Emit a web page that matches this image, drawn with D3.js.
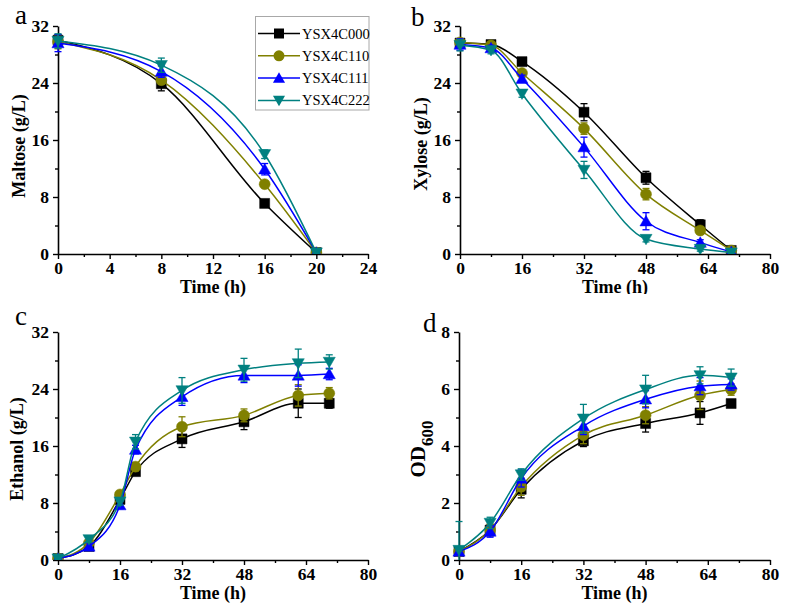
<!DOCTYPE html>
<html><head><meta charset="utf-8">
<script src="https://cdn.jsdelivr.net/npm/d3@7"></script>
<style>
body{margin:0;background:#fff;}
svg{display:block;}
text{font-family:"Liberation Serif","Times New Roman",serif;}
</style></head>
<body>
<svg id="chart" width="787" height="607"></svg>
<script>
// ---------------- DATA ----------------
const seriesNames = ["YSX4C000","YSX4C110","YSX4C111","YSX4C222"];
const seriesColors = ["#000000","#808000","#0000ff","#008080"];
const seriesShapes = ["square","circle","triangleUp","triangleDown"];

// Panel a: Maltose
const timeA = [0, 8, 16, 20];
const maltose000 = [30.0, 23.9, 7.1, 0.2];
const maltose110 = [29.8, 24.4, 9.8, 0.2];
const maltose111 = [29.6, 25.6, 11.9, 0.2];
const maltose222 = [29.9, 26.5, 14.0, 0.2];
const maltoseErr000 = [0.8, 1.0, 0.5, 0.1];
const maltoseErr110 = [1.0, 0.6, 0.5, 0.1];
const maltoseErr111 = [1.2, 0.8, 0.8, 0.1];
const maltoseErr222 = [1.0, 1.0, 0.6, 0.1];

// Panel b: Xylose
const timeB = [0, 8, 16, 32, 48, 62, 70];
const xylose000 = [29.6, 29.4, 27.0, 19.9, 10.7, 4.1, 0.5];
const xylose110 = [29.7, 29.3, 25.4, 17.6, 8.4, 3.3, 0.5];
const xylose111 = [29.4, 28.9, 24.6, 15.0, 4.6, 1.6, 0.3];
const xylose222 = [29.3, 28.6, 22.5, 11.8, 2.1, 0.7, 0.2];
const xyloseErr000 = [0.5, 0.3, 0.3, 1.2, 0.9, 0.7, 0.2];
const xyloseErr110 = [0.5, 0.3, 0.4, 0.8, 0.8, 0.5, 0.2];
const xyloseErr111 = [0.8, 0.4, 0.5, 1.4, 1.2, 0.4, 0.2];
const xyloseErr222 = [0.8, 0.5, 0.5, 1.2, 0.4, 0.3, 0.1];

// Panel c: Ethanol
const timeC = [0, 8, 16, 20, 32, 48, 62, 70];
const ethanol000 = [0.2, 1.9, 8.5, 12.4, 17.0, 19.4, 22.0, 22.0];
const ethanol110 = [0.2, 2.4, 9.2, 13.1, 18.7, 20.3, 23.1, 23.4];
const ethanol111 = [0.2, 1.9, 7.7, 15.5, 22.9, 25.9, 25.9, 26.1];
const ethanol222 = [0.2, 2.9, 8.2, 16.6, 23.8, 26.7, 27.6, 27.8];
const ethanolErr000 = [0.1, 0.4, 0.4, 0.5, 1.2, 1.1, 2.0, 0.7];
const ethanolErr110 = [0.1, 0.4, 0.4, 0.6, 1.4, 0.9, 1.5, 0.8];
const ethanolErr111 = [0.1, 0.5, 0.5, 0.6, 1.2, 1.0, 1.5, 0.8];
const ethanolErr222 = [0.1, 0.4, 0.5, 1.0, 1.8, 1.6, 2.0, 1.0];

// Panel d: OD600
const timeD = [0, 8, 16, 32, 48, 62, 70];
const od000 = [0.30, 1.05, 2.48, 4.18, 4.79, 5.16, 5.49];
const od110 = [0.30, 1.05, 2.57, 4.38, 5.08, 5.78, 5.98];
const od111 = [0.30, 1.00, 2.86, 4.70, 5.64, 6.10, 6.16];
const od222 = [0.35, 1.30, 3.00, 4.96, 5.98, 6.48, 6.40];
const odErr000 = [0.05, 0.2, 0.3, 0.2, 0.3, 0.4, 0.1];
const odErr110 = [0.05, 0.2, 0.3, 0.3, 0.3, 0.5, 0.2];
const odErr111 = [0.05, 0.2, 0.3, 0.3, 0.3, 0.3, 0.2];
const odErr222 = [1.00, 0.2, 0.2, 0.5, 0.5, 0.3, 0.3];

const xTicksA = [0,4,8,12,16,20,24];
const xTicksBCD = [0,16,32,48,64,80];
const yTicks32 = [0,8,16,24,32];
const yTicks8 = [0,2,4,6,8];

// ---------------- DRAW ----------------
const svg = d3.select("#chart");
const FONT = '"Liberation Serif","Times New Roman",serif';

function symbolPath(shape, s){
  const h = s/2;
  if(shape==="square") return `M${-h},${-h}H${h}V${h}H${-h}Z`;
  if(shape==="circle") return `M${-h},0A${h},${h} 0 1,0 ${h},0A${h},${h} 0 1,0 ${-h},0Z`;
  if(shape==="triangleUp") return `M0,${-h*1.05}L${h*1.1},${h*0.85}L${-h*1.1},${h*0.85}Z`;
  return `M0,${h*1.05}L${h*1.1},${-h*0.85}L${-h*1.1},${-h*0.85}Z`;
}

const panels = [
  {id:"a", letter:"a", lx:15, ly:24, x0:58, x1:368, y0:254, y1:26, xMax:24, yMax:32,
   xTicks:xTicksA, xMinor:d3.range(2,24,4), yTicks:yTicks32, yMinor:d3.range(4,32,8),
   t:timeA, ys:[maltose000,maltose110,maltose111,maltose222], es:[maltoseErr000,maltoseErr110,maltoseErr111,maltoseErr222],
   ytitle:"Maltose (g/L)", ytx:25, yty:146, xty:293, legend:true},
  {id:"b", letter:"b", lx:411, ly:26, x0:460, x1:770, y0:254, y1:26, xMax:80, yMax:32,
   xTicks:xTicksBCD, xMinor:d3.range(8,80,16), yTicks:yTicks32, yMinor:d3.range(4,32,8),
   t:timeB, ys:[xylose000,xylose110,xylose111,xylose222], es:[xyloseErr000,xyloseErr110,xyloseErr111,xyloseErr222],
   ytitle:"Xylose (g/L)", ytx:427, yty:144, xty:293, clipTitle:true},
  {id:"c", letter:"c", lx:15, ly:325, x0:58, x1:368, y0:560, y1:332, xMax:80, yMax:32,
   xTicks:xTicksBCD, xMinor:d3.range(8,80,16), yTicks:yTicks32, yMinor:d3.range(4,32,8),
   t:timeC, ys:[ethanol000,ethanol110,ethanol111,ethanol222], es:[ethanolErr000,ethanolErr110,ethanolErr111,ethanolErr222],
   ytitle:"Ethanol (g/L)", ytx:23, yty:449, xty:599},
  {id:"d", letter:"d", lx:423, ly:332, x0:459, x1:770, y0:560, y1:332, xMax:80, yMax:8,
   xTicks:xTicksBCD, xMinor:d3.range(8,80,16), yTicks:yTicks8, yMinor:[1,3,5,7],
   t:timeD, ys:[od000,od110,od111,od222], es:[odErr000,odErr110,odErr111,odErr222],
   ytitle:"OD", ytx:425, yty:449, xty:599, sub:"600"}
];

const defs = svg.append("defs");

panels.forEach(p=>{
  const x = d3.scaleLinear().domain([0,p.xMax]).range([p.x0,p.x1]);
  const y = d3.scaleLinear().domain([0,p.yMax]).range([p.y0,p.y1]);
  const g = svg.append("g");

  defs.append("clipPath").attr("id","clip"+p.id).append("rect")
    .attr("x",p.x0-20).attr("y",p.y1-20).attr("width",p.x1-p.x0+40).attr("height",p.y0-p.y1+20);

  // Axes
  g.append("g").attr("transform",`translate(0,${p.y0})`)
    .call(d3.axisBottom(x).tickValues(p.xTicks).tickSize(5).tickSizeOuter(0).tickPadding(3).tickFormat(d3.format("d")));
  g.append("g").attr("transform",`translate(0,${p.y0})`)
    .call(d3.axisBottom(x).tickValues(p.xMinor).tickSize(3).tickSizeOuter(0).tickFormat(""))
    .select(".domain").remove();
  g.append("g").attr("transform",`translate(${p.x0},0)`)
    .call(d3.axisLeft(y).tickValues(p.yTicks).tickSize(5).tickSizeOuter(0).tickPadding(4).tickFormat(d3.format("d")));
  g.append("g").attr("transform",`translate(${p.x0},0)`)
    .call(d3.axisLeft(y).tickValues(p.yMinor).tickSize(3).tickSizeOuter(0).tickFormat(""))
    .select(".domain").remove();
  g.selectAll(".domain").attr("stroke","#000").attr("stroke-width",1.6);
  g.selectAll(".tick line").attr("stroke","#000").attr("stroke-width",1.4);
  g.selectAll(".tick text").attr("font-family",FONT).attr("font-size",17.5).attr("font-weight","bold").attr("fill","#000");

  // Titles
  const xt = g.append("text").attr("x",(p.x0+p.x1)/2).attr("y",p.xty)
    .attr("text-anchor","middle").attr("font-family",FONT).attr("font-size",18).attr("font-weight","bold")
    .text("Time (h)");
  if(p.clipTitle){
    defs.append("clipPath").attr("id","tclip"+p.id).append("rect")
      .attr("x",p.x0).attr("y",p.y0).attr("width",p.x1-p.x0).attr("height",294-p.y0);
    xt.attr("clip-path",`url(#tclip${p.id})`);
  }
  const yt = g.append("text").attr("transform",`translate(${p.ytx},${p.yty}) rotate(-90)`)
    .attr("text-anchor","middle").attr("font-family",FONT).attr("font-weight","bold")
    .attr("font-size",p.sub?21:18)
    .text(p.ytitle);
  if(p.sub){
    yt.append("tspan").attr("font-size",17).attr("dy",8).text(p.sub);
  }
  g.append("text").attr("x",p.lx).attr("y",p.ly).attr("font-family",FONT).attr("font-size",27)
    .text(p.letter);

  // Series
  const line = d3.line().x(d=>x(d[0])).y(d=>y(d[1])).curve(d3.curveMonotoneX);
  const plot = g.append("g").attr("clip-path",`url(#clip${p.id})`);
  p.ys.forEach((vals,si)=>{
    const col = seriesColors[si];
    const pts = p.t.map((t,i)=>[t,vals[i],p.es[si][i]]);
    plot.append("path").attr("d",line(pts)).attr("fill","none").attr("stroke",col).attr("stroke-width",1.5);
    const eb = plot.append("g").attr("stroke",col).attr("stroke-width",1.3);
    pts.forEach(d=>{
      const cx = x(d[0]), yt2 = y(d[1]+d[2]), yb = y(Math.max(0,d[1]-d[2]));
      eb.append("line").attr("x1",cx).attr("x2",cx).attr("y1",yt2).attr("y2",yb);
      eb.append("line").attr("x1",cx-3.5).attr("x2",cx+3.5).attr("y1",yt2).attr("y2",yt2);
      if(d[1]-d[2]>0) eb.append("line").attr("x1",cx-3.5).attr("x2",cx+3.5).attr("y1",yb).attr("y2",yb);
    });
    plot.append("g").selectAll("path").data(pts).join("path")
      .attr("transform",d=>`translate(${x(d[0])},${y(d[1])})`)
      .attr("d",symbolPath(seriesShapes[si], si===0?10:11))
      .attr("fill",col).attr("stroke",col).attr("stroke-width",0.5);
  });

  // Legend
  if(p.legend){
    const lg = g.append("g");
    lg.append("rect").attr("x",255.5).attr("y",16.5).attr("width",113.5).attr("height",93.5)
      .attr("fill","#fff").attr("stroke","#a8a8a8").attr("stroke-width",1);
    seriesNames.forEach((nm,i)=>{
      const ly = 33.5 + i*22.3;
      lg.append("line").attr("x1",258).attr("x2",300).attr("y1",ly).attr("y2",ly)
        .attr("stroke",seriesColors[i]).attr("stroke-width",1.5);
      lg.append("path").attr("transform",`translate(279,${ly})`)
        .attr("d",symbolPath(seriesShapes[i], i===0?10:11)).attr("fill",seriesColors[i]);
      lg.append("text").attr("x",302).attr("y",ly).attr("dy","0.35em")
        .attr("font-family",FONT).attr("font-size",14.5).text(nm);
    });
  }
});
</script>
</body></html>
